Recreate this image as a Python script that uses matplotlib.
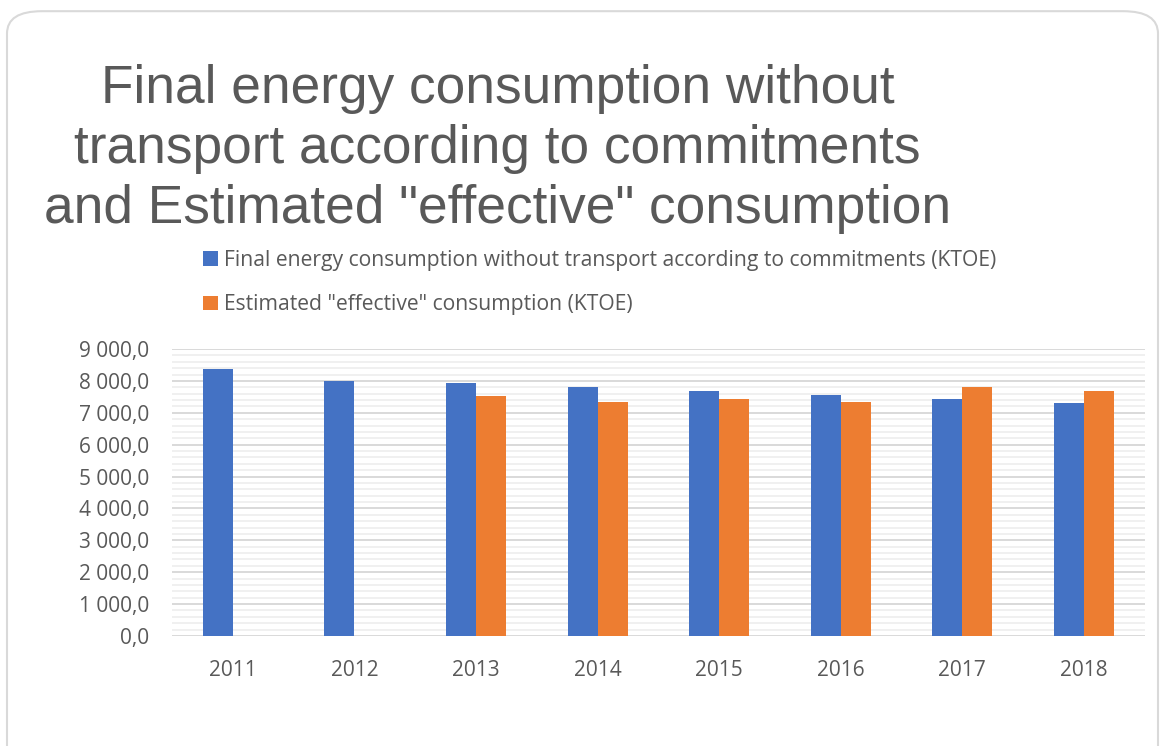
import numpy as np
import matplotlib.pyplot as plt
from matplotlib.patches import FancyBboxPatch
from matplotlib.ticker import MultipleLocator, FuncFormatter

# Final energy consumption (KTOE) by year
years = ["2011", "2012", "2013", "2014", "2015", "2016", "2017", "2018"]
commitments = [8370, 8005, 7920, 7810, 7680, 7565, 7430, 7305]
effective = [np.nan, np.nan, 7515, 7340, 7420, 7340, 7820, 7690]

label_commit = "Final energy consumption without transport according to commitments (KTOE)"
label_effective = 'Estimated "effective" consumption (KTOE)'
title = ("Final energy consumption without\n"
         "transport according to commitments\n"
         'and Estimated "effective" consumption')

blue = "#4472C4"
orange = "#ED7D31"
grey_text = "#595959"

fig = plt.figure(figsize=(11.65, 7.46), dpi=100)

# rounded frame round the whole chart
frame = FancyBboxPatch((0.006, -0.05), 0.988, 1.035,
                       boxstyle="round,pad=0,rounding_size=0.03",
                       transform=fig.transFigure, facecolor="white",
                       edgecolor="#d9d9d9", linewidth=1.5, zorder=-5)
fig.patches.append(frame)

ax = fig.add_axes([0.1476, 0.1475, 0.835, 0.3846])
ax.patch.set_alpha(0)
x = np.arange(len(years))
w = 0.247
b1 = ax.bar(x - w / 2, commitments, w, color=blue, label=label_commit, zorder=3)
b2 = ax.bar(x + w / 2, effective, w, color=orange, label=label_effective, zorder=3)

ax.set_xlim(-0.5, len(years) - 0.5)
ax.set_ylim(0, 9000)
ax.yaxis.set_major_locator(MultipleLocator(1000))
ax.yaxis.set_minor_locator(MultipleLocator(200))
ax.yaxis.set_major_formatter(FuncFormatter(
    lambda v, p: f"{v:,.1f}".replace(",", " ").replace(".", ",")))
ax.grid(axis="y", which="major", color="#d9d9d9", linewidth=1.4, zorder=0)
ax.grid(axis="y", which="minor", color="#f0f0f0", linewidth=1.4, zorder=0)
ax.set_axisbelow(True)
for s in ax.spines.values():
    s.set_visible(False)
ax.set_xticks(x)
ax.set_xticklabels(years)
ax.tick_params(axis="both", which="both", length=0, labelsize=15,
               labelcolor=grey_text)
ax.tick_params(axis="y", pad=16.5)
ax.tick_params(axis="x", pad=17)
for t in ax.get_xticklabels() + ax.get_yticklabels():
    t.set_fontfamily("Open Sans")

fig.text(0.427, 0.914, title, ha="center", va="top", fontsize=38.3,
         color=grey_text, family="Liberation Sans", linespacing=1.25)

fig.legend(handles=[b1, b2], loc="upper left", bbox_to_anchor=(0.158, 0.69),
           frameon=False, ncol=1, handlelength=0.7, handleheight=0.7,
           handletextpad=0.3, labelspacing=1.1, labelcolor=grey_text,
           prop={"family": "Open Sans", "size": 15.2})

fig.savefig("out.png", dpi=100)
